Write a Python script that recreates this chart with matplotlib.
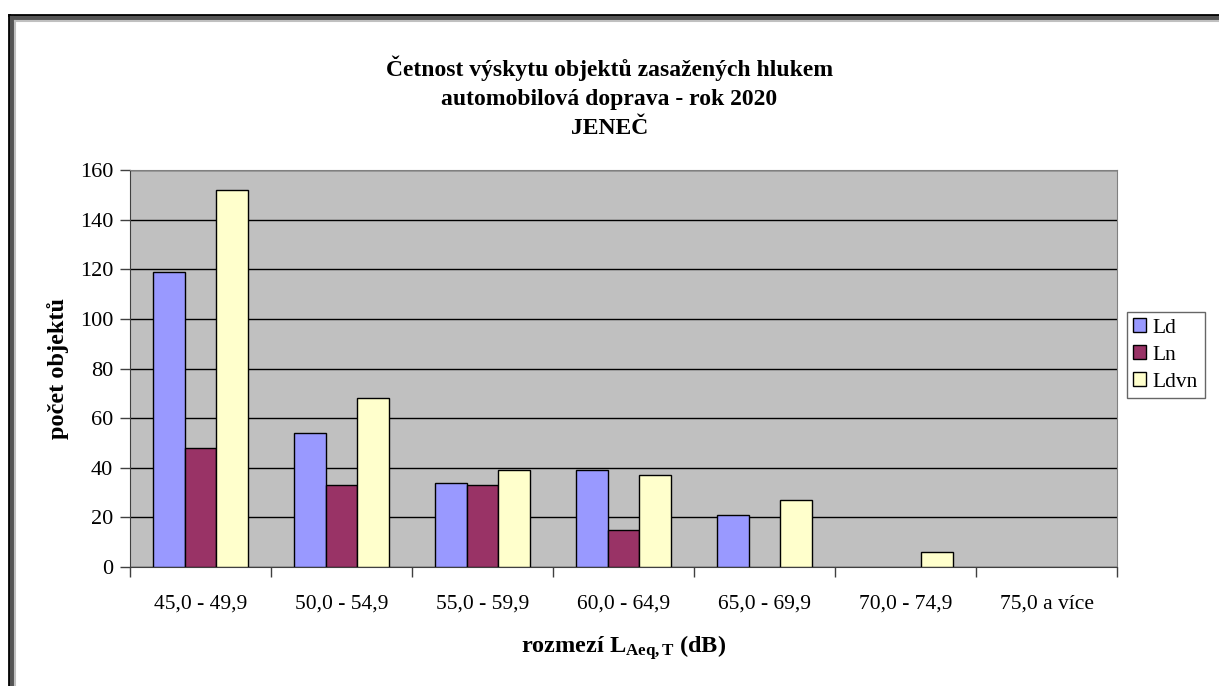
import numpy as np
import matplotlib
matplotlib.use('Agg')
from matplotlib import pyplot as plt
from matplotlib.lines import Line2D

plt.rcParams['font.family'] = ['Liberation Serif', 'DejaVu Serif']
plt.rcParams['mathtext.fontset'] = 'custom'
plt.rcParams['mathtext.rm'] = 'Liberation Serif'
plt.rcParams['mathtext.bf'] = 'Liberation Serif:bold'
plt.rcParams['mathtext.it'] = 'Liberation Serif:italic'

categories = ['45,0 - 49,9', '50,0 - 54,9', '55,0 - 59,9', '60,0 - 64,9',
              '65,0 - 69,9', '70,0 - 74,9', '75,0 a více']
ld = [119, 54, 34, 39, 21, 0, 0]
ln = [48, 33, 33, 15, 0, 0, 0]
ldvn = [152, 68, 39, 37, 27, 6, 0]
series_names = ['Ld', 'Ln', 'Ldvn']
colors = ['#9999FF', '#993366', '#FFFFCC']

W, H = 1219, 686
fig = plt.figure(figsize=(W / 100, H / 100), dpi=100)
ax = fig.add_axes([130 / W, 1 - 567 / H, (1117 - 130) / W, (567 - 170) / H])

x = np.arange(len(categories))
bw = 0.224
for i, (vals, name, c) in enumerate(zip([ld, ln, ldvn], series_names, colors)):
    vals = np.array(vals, dtype=float)
    mask = vals > 0
    ax.bar(x[mask] + (i - 1) * bw, vals[mask], width=bw, color=c,
           edgecolor='black', linewidth=1.0, label=name, zorder=3)

ax.set_facecolor('#C0C0C0')
ax.set_xlim(-0.5, len(categories) - 0.5)
ax.set_ylim(0, 160)
ax.set_yticks(np.arange(0, 161, 20))
ax.set_xticks(np.arange(len(categories) + 1) - 0.5, minor=False)
ax.set_xticklabels([])
ax.set_xticks(x, minor=True)
ax.set_xticklabels(categories, minor=True, fontsize=15.5)
ax.tick_params(axis='x', which='minor', length=0, pad=20)
ax.tick_params(axis='x', which='major', length=7, width=1, color='#404040')
ax.tick_params(axis='y', length=7, width=1, color='#404040', labelsize=16, pad=5)
ax.yaxis.grid(True, color='black', linewidth=1, zorder=1)
ax.set_axisbelow(True)
for s in ['top', 'right']:
    ax.spines[s].set_color('#808080')
for s in ['left', 'bottom']:
    ax.spines[s].set_color('#404040')

ax.set_ylabel('počet objektů', fontsize=17.5, fontweight='bold', labelpad=8)
ax.set_xlabel(r'rozmezí $\mathbf{L}_{\mathbf{Aeq,T}}$ (dB)', fontsize=17.5,
              fontweight='bold', labelpad=14)

fig.text(0.5, 1 - 68 / H, 'Četnost výskytu objektů zasažených hlukem',
         ha='center', va='center', fontsize=17, fontweight='bold')
fig.text(0.5, 1 - 99 / H, 'automobilová doprava - rok 2020',
         ha='center', va='center', fontsize=17, fontweight='bold')
fig.text(0.5, 1 - 129 / H, 'JENEČ',
         ha='center', va='center', fontsize=17, fontweight='bold')

leg = ax.legend(loc='upper left', bbox_to_anchor=(1127 / W, 1 - 312 / H),
                bbox_transform=fig.transFigure, fontsize=15.5, frameon=True,
                fancybox=False, edgecolor='#404040', handlelength=0.6,
                handleheight=0.6, handletextpad=0.3, labelspacing=0.35,
                borderpad=0.3, borderaxespad=0)
leg.get_frame().set_linewidth(1)

# outer frame (top and left edges)
fig.add_artist(Line2D([9 / W, 1], [1 - 15 / H, 1 - 15 / H], color='black', linewidth=2))
fig.add_artist(Line2D([9 / W, 9 / W], [0, 1 - 15 / H], color='black', linewidth=2))
fig.add_artist(Line2D([12 / W, 1], [1 - 18 / H, 1 - 18 / H], color='#555555', linewidth=3))
fig.add_artist(Line2D([12 / W, 12 / W], [0, 1 - 18 / H], color='#555555', linewidth=3))
fig.add_artist(Line2D([15 / W, 1], [1 - 20.5 / H, 1 - 20.5 / H], color='#C0C0C0', linewidth=1.5))
fig.add_artist(Line2D([15 / W, 15 / W], [0, 1 - 20.5 / H], color='#C0C0C0', linewidth=1.5))

fig.savefig('out.png', dpi=100)
